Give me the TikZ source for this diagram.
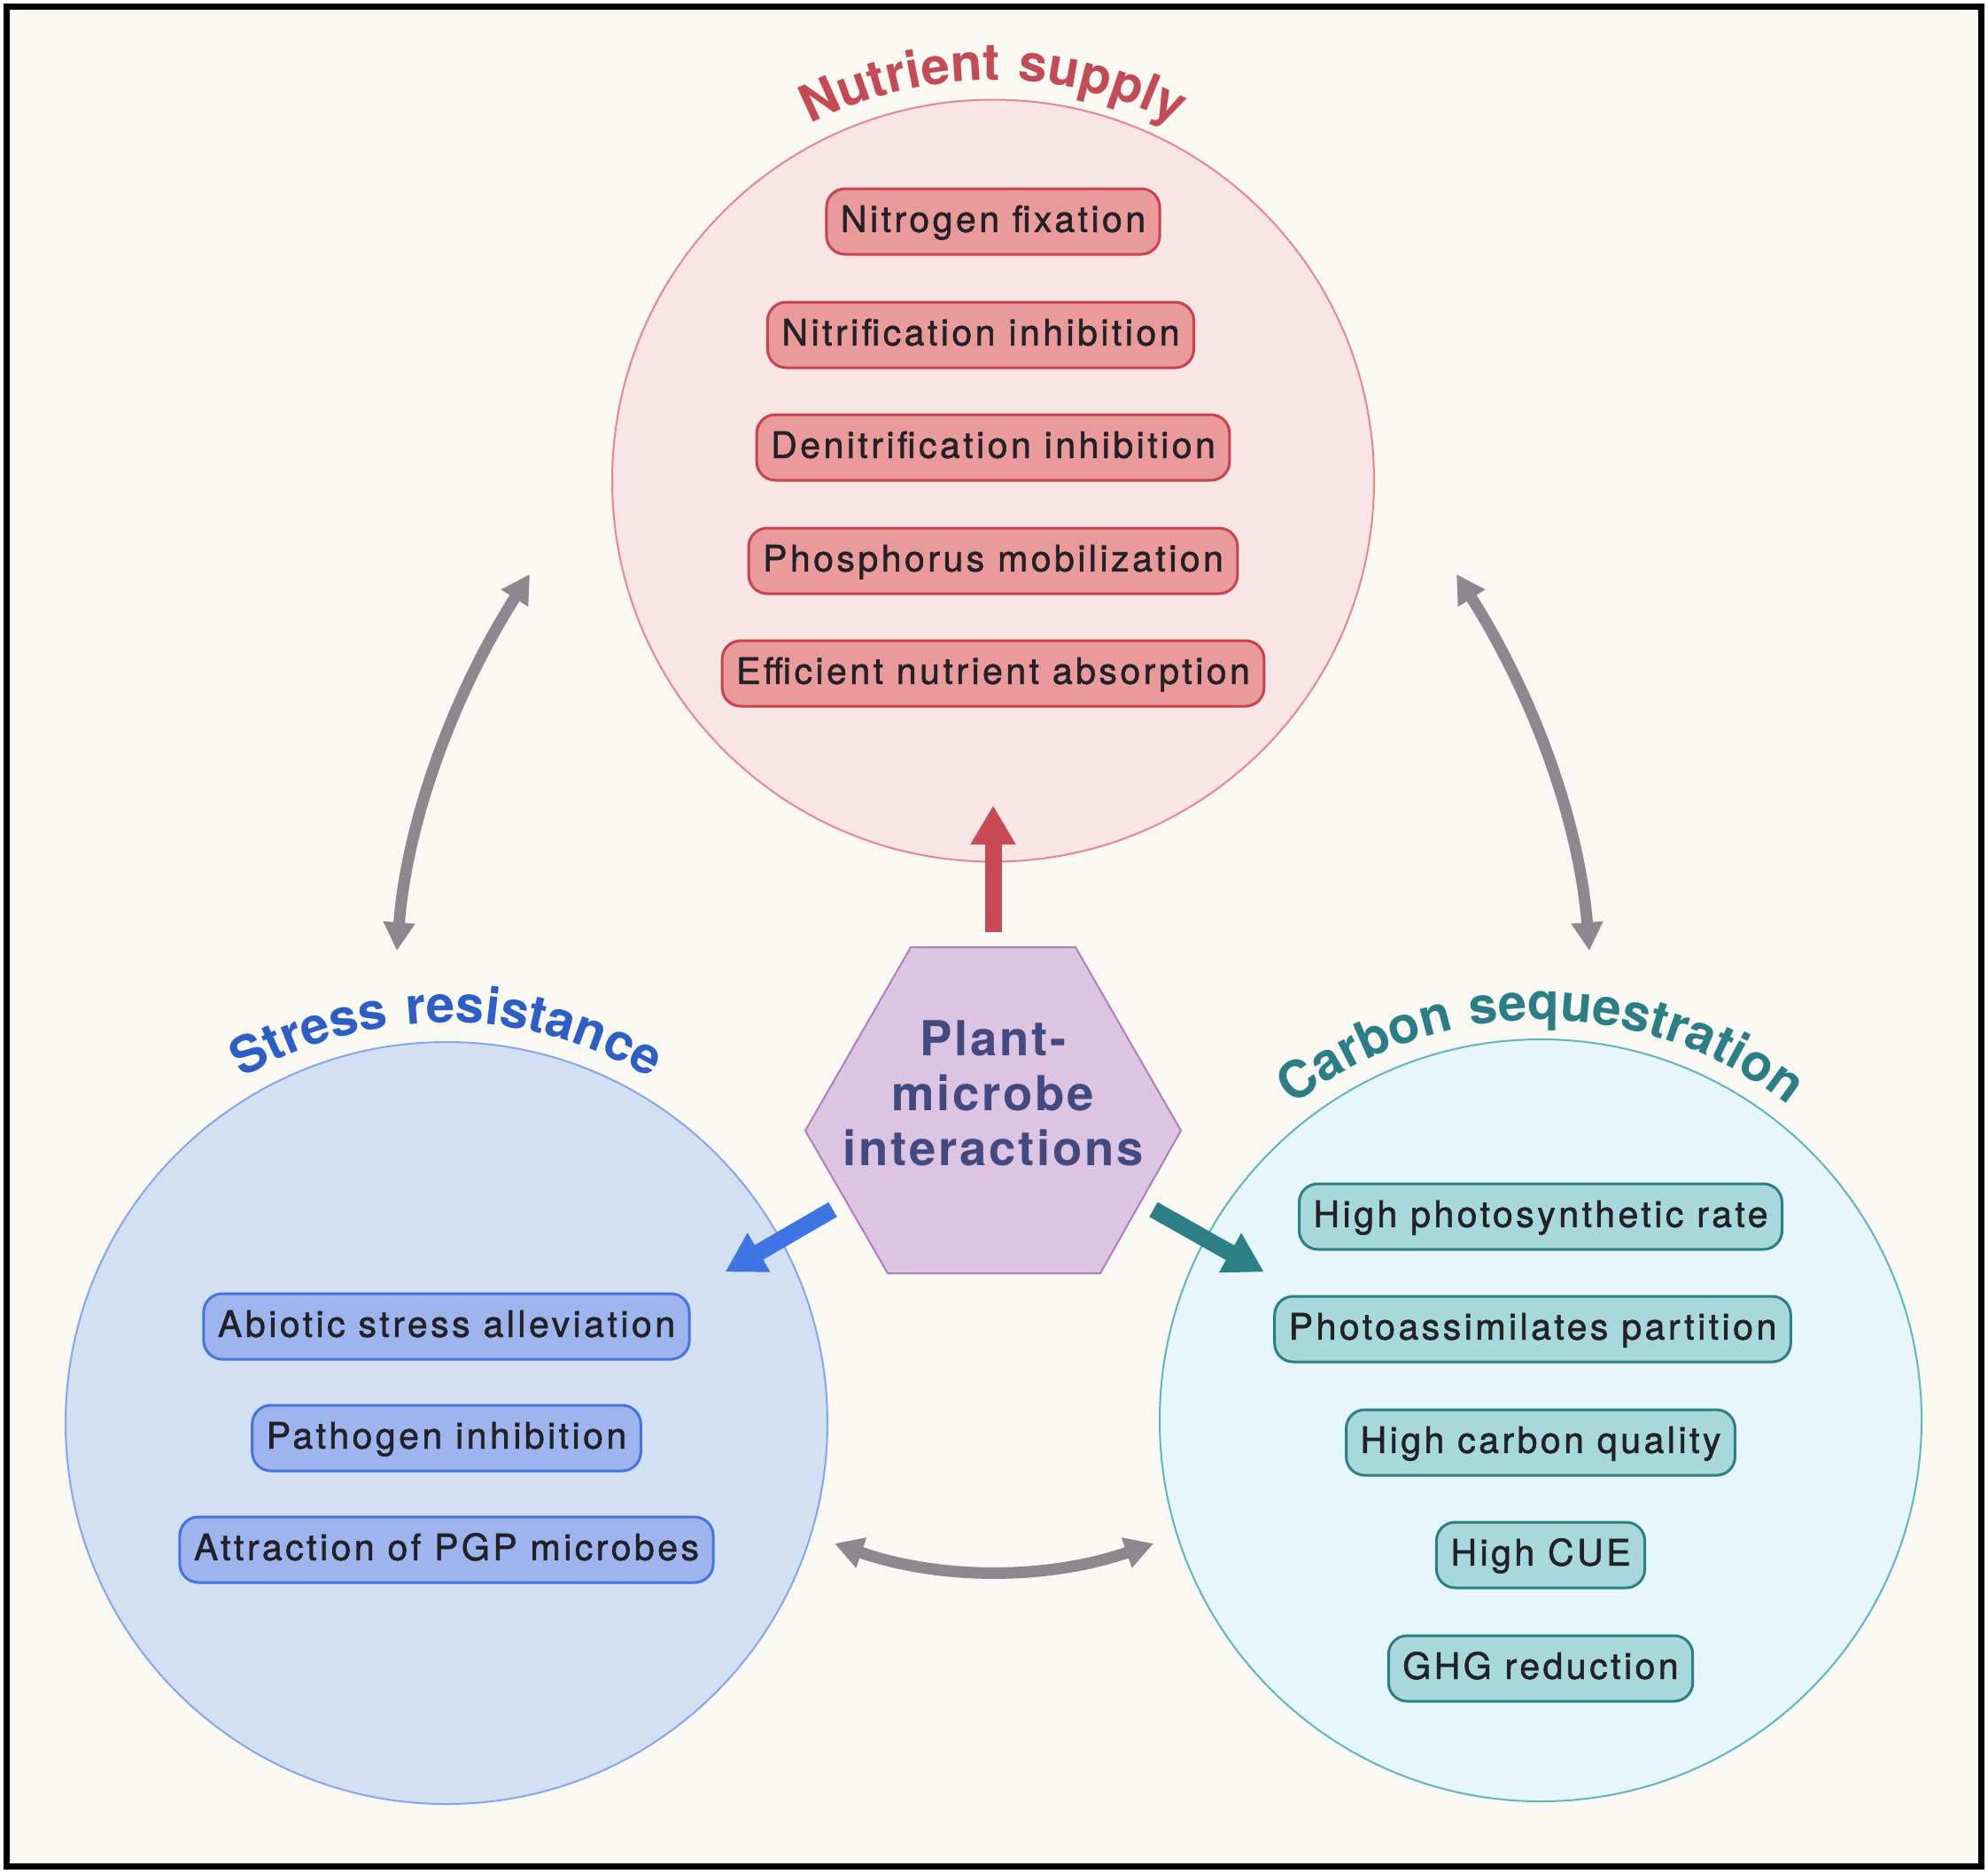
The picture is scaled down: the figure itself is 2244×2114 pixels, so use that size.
\documentclass[tikz,border=0pt]{standalone}
\usepackage{fontspec}
\setmainfont{TeX Gyre Heros}
\newfontfamily\pmBoxFam[LetterSpace=8.5,FakeBold=1.4]{TeX Gyre Heros}
\newfontfamily\pmTtlFam[LetterSpace=6]{TeX Gyre Heros}
\newfontfamily\pmHexFam[LetterSpace=5]{TeX Gyre Heros}
\usetikzlibrary{arrows.meta,decorations.text}
\definecolor{bgc}{HTML}{FAF8F3}
\definecolor{nutfill}{HTML}{F9E4E6}
\definecolor{nutline}{HTML}{E8868E}
\definecolor{nutbox}{HTML}{EB9A9C}
\definecolor{nutboxl}{HTML}{C7434F}
\definecolor{nutt}{HTML}{C44B56}
\definecolor{nuta}{HTML}{C84A55}
\definecolor{strfill}{HTML}{D3E0F4}
\definecolor{strline}{HTML}{86A6EA}
\definecolor{strbox}{HTML}{9DB4EE}
\definecolor{strboxl}{HTML}{4573E0}
\definecolor{strt}{HTML}{2C5EC6}
\definecolor{stra}{HTML}{3F74E4}
\definecolor{carfill}{HTML}{E7F6FA}
\definecolor{carline}{HTML}{5FB5C0}
\definecolor{carbox}{HTML}{A7D8DB}
\definecolor{carboxl}{HTML}{2B7F87}
\definecolor{cart}{HTML}{2B7E86}
\definecolor{cara}{HTML}{2B7F85}
\definecolor{hexfill}{HTML}{DDC4E2}
\definecolor{hexline}{HTML}{B17DBD}
\definecolor{hextext}{HTML}{434A82}
\definecolor{grayarr}{HTML}{8B898F}
\definecolor{boxtext}{HTML}{222226}
\newcommand\pmBoxFont{\pmBoxFam\fontsize{41bp}{48bp}\selectfont}
\newcommand\pmTtlFont{\pmTtlFam\bfseries\fontsize{58bp}{66bp}\selectfont}
\newcommand\pmHexFont{\pmHexFam\bfseries\fontsize{54.5bp}{62bp}\selectfont}
\begin{document}
\begin{tikzpicture}[x=1bp,y=1bp,
  bigcirc/.style={circle, minimum size=860bp, inner sep=0pt, line width=2bp},
  pill/.style={rectangle, rounded corners=21bp, draw, line width=3bp,
     minimum height=74bp, inner xsep=16bp, inner ysep=0pt,
     text height=29.5bp, text depth=6bp, font=\pmBoxFont, text=boxtext},
  bigarrow/.style={line width=19bp, -{Triangle[length=44bp,width=48bp]}},
  grayarrow/.style={line width=13bp, draw=grayarr,
     {Triangle[length=32bp,width=34bp]}-{Triangle[length=32bp,width=34bp]}},
  titlepath/.style={decorate, decoration={text along path, text align=center, text={#1}}}
]
\useasboundingbox (0,0) rectangle (2244,-2114);
\fill[white] (0,0) rectangle (2244,-2114);
\fill[bgc] (7.5,-7.5) rectangle (2236.5,-2106.5);
\draw[line width=7bp, black] (7.5,-7.5) rectangle (2236.5,-2106.5);

% circles
\node[bigcirc, fill=nutfill, draw=nutline] (nut) at (1121,-542.5) {};
\node[bigcirc, fill=strfill, draw=strline] (str) at (504,-1606) {};
\node[bigcirc, fill=carfill, draw=carline] (car) at (1739,-1603) {};

% titles
\path[titlepath={|\pmTtlFont\color{nutt}|Nutrient supply}]
  (nut.center) ++(150:452) arc[start angle=150, end angle=30, radius=452];
\path[titlepath={|\pmTtlFont\color{strt}|Stress resistance}]
  (str.center) ++(150:452) arc[start angle=150, end angle=30, radius=452];
\path[titlepath={|\pmTtlFont\color{cart}|Carbon sequestration}]
  (car.center) ++(160:452) arc[start angle=160, end angle=20, radius=452];

% hexagon
\coordinate (h1) at (1028,-1069);
\coordinate (h2) at (1214,-1069);
\coordinate (h3) at (1333,-1276);
\coordinate (h4) at (1242,-1437);
\coordinate (h5) at (1002,-1437);
\coordinate (h6) at (909,-1276);
\draw[fill=hexfill, draw=hexline, line width=2bp] (h1) -- (h2) -- (h3) -- (h4) -- (h5) -- (h6) -- cycle;
\node[align=center, font=\pmHexFont, text=hextext, inner sep=0pt] (hex) at (1121,-1233.5) {Plant-\\microbe\\interactions};

% coloured arrows
\coordinate (rs) at (1121,-1052);
\coordinate (re) at (1121,-909);
\coordinate (bs) at (940,-1365);
\coordinate (be) at (818.6,-1435.5);
\coordinate (ts) at (1302,-1365);
\coordinate (te) at (1426.8,-1435.5);
\draw[bigarrow, draw=nuta] (rs) -- (re);
\draw[bigarrow, draw=stra] (bs) -- (be);
\draw[bigarrow, draw=cara] (ts) -- (te);

% gray double arrows
\coordinate (gl1) at (448,-1073);
\coordinate (gl2) at (598,-648);
\coordinate (gr1) at (1644,-648);
\coordinate (gr2) at (1794,-1073);
\coordinate (gb1) at (942,-1742);
\coordinate (gb2) at (1302,-1742);
\draw[grayarrow] (gl1) .. controls (459.3,-929.7) and (509.3,-788) .. (gl2);
\draw[grayarrow] (gr1) .. controls (1732.7,-788) and (1782.7,-929.7) .. (gr2);
\draw[grayarrow] (gb1) .. controls (1062,-1783.3) and (1182,-1783.3) .. (gb2);

% nutrient boxes
\node[pill, fill=nutbox, draw=nutboxl] (n1) at (1121,-250) {Nitrogen fixation};
\node[pill, fill=nutbox, draw=nutboxl] (n2) at (1107,-378) {Nitrification inhibition};
\node[pill, fill=nutbox, draw=nutboxl] (n3) at (1121,-505) {Denitrification inhibition};
\node[pill, fill=nutbox, draw=nutboxl] (n4) at (1121,-633) {Phosphorus mobilization};
\node[pill, fill=nutbox, draw=nutboxl] (n5) at (1121,-760) {Efficient nutrient absorption};

% stress boxes
\node[pill, fill=strbox, draw=strboxl] (s1) at (504,-1497) {Abiotic stress alleviation};
\node[pill, fill=strbox, draw=strboxl] (s2) at (504,-1623) {Pathogen inhibition};
\node[pill, fill=strbox, draw=strboxl] (s3) at (504,-1749) {Attraction of PGP microbes};

% carbon boxes
\node[pill, fill=carbox, draw=carboxl] (c1) at (1739,-1373) {High photosynthetic rate};
\node[pill, fill=carbox, draw=carboxl] (c2) at (1730,-1500) {Photoassimilates partition};
\node[pill, fill=carbox, draw=carboxl] (c3) at (1739,-1628) {High carbon quality};
\node[pill, fill=carbox, draw=carboxl] (c4) at (1739,-1755) {High CUE};
\node[pill, fill=carbox, draw=carboxl] (c5) at (1739,-1883) {GHG reduction};
\end{tikzpicture}
\end{document}
